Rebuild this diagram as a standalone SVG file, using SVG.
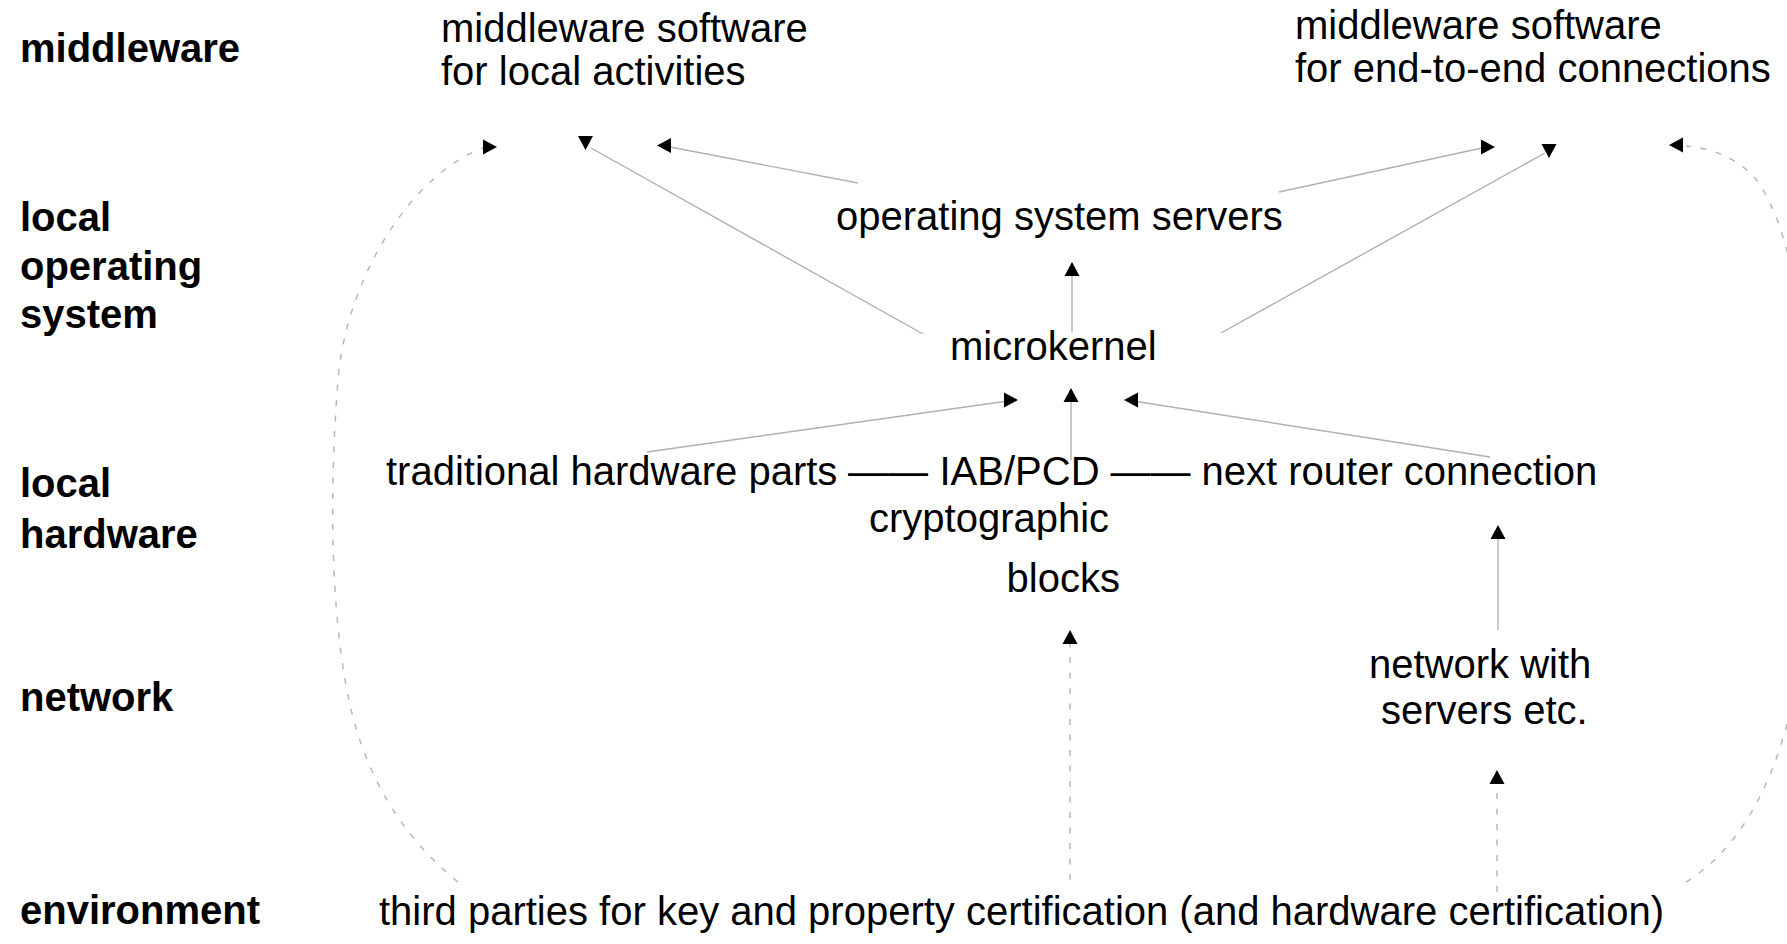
<svg xmlns="http://www.w3.org/2000/svg" xmlns:xlink="http://www.w3.org/1999/xlink" width="1787" height="944" viewBox="0 0 1787 944">
  <style>
    text { font-family: "Liberation Sans", Arial, sans-serif; font-size: 40px; fill: #000; }
    .layer { font-weight: bold; }
    .link { fill: none; stroke: #b0b0b0; stroke-width: 1.4; }
    .dots { fill: none; stroke: #b8b8b8; stroke-width: 1.5; stroke-dasharray: 6 9.5; }
    .head { fill: #000; }
  </style>
  <defs>
    <!-- arrowhead pointing right, tip at origin -->
    <path id="ah" class="head" d="M0,0 L-14,-7.5 L-14,7.5 Z"/>
  </defs>

  <rect width="1787" height="944" fill="#fff"/>

  <!-- layer labels -->
  <g id="layer-middleware"><text class="layer" x="20" y="62">middleware</text></g>
  <g id="layer-local-os">
    <text class="layer" x="20" y="231">local</text>
    <text class="layer" x="20" y="280">operating</text>
    <text class="layer" x="20" y="328">system</text>
  </g>
  <g id="layer-local-hw">
    <text class="layer" x="20" y="497">local</text>
    <text class="layer" x="20" y="548">hardware</text>
  </g>
  <g id="layer-network"><text class="layer" x="20" y="711">network</text></g>
  <g id="layer-environment"><text class="layer" x="20" y="924">environment</text></g>

  <!-- connectors -->
  <g id="connectors">
    <line class="link" x1="923" y1="334" x2="591" y2="148"/>
    <line class="link" x1="858" y1="183" x2="670" y2="147"/>
    <line class="link" x1="1279" y1="192" x2="1482" y2="148"/>
    <line class="link" x1="1221" y1="333" x2="1545" y2="153"/>
    <line class="link" x1="1072" y1="332" x2="1072" y2="272"/>
    <line class="link" x1="647" y1="452" x2="1008" y2="401"/>
    <line class="link" x1="1071" y1="460" x2="1071" y2="398"/>
    <line class="link" x1="1490" y1="457" x2="1133" y2="401"/>
    <line class="link" x1="1498" y1="630" x2="1498" y2="535"/>
    <line class="dots" x1="1070" y1="880" x2="1070" y2="644"/>
    <line class="dots" x1="1497" y1="892" x2="1497" y2="784"/>
    <path class="dots" d="M458,882 C400,835 360,770 345,680 S330,480 338,380 S410,175 483,148"/>
    <path class="dots" d="M1686,882 C1770,830 1810,700 1810,520 C1810,340 1795,240 1760,185 C1745,162 1715,148 1686,146"/>

    <use xlink:href="#ah" href="#ah" transform="translate(497,147)"/>
    <use xlink:href="#ah" href="#ah" transform="translate(585.5,150) rotate(90)"/>
    <use xlink:href="#ah" href="#ah" transform="translate(657,145.5) rotate(180)"/>
    <use xlink:href="#ah" href="#ah" transform="translate(1495,147)"/>
    <use xlink:href="#ah" href="#ah" transform="translate(1549,158) rotate(90)"/>
    <use xlink:href="#ah" href="#ah" transform="translate(1669,145) rotate(180)"/>
    <use xlink:href="#ah" href="#ah" transform="translate(1072,262) rotate(-90)"/>
    <use xlink:href="#ah" href="#ah" transform="translate(1018,400)"/>
    <use xlink:href="#ah" href="#ah" transform="translate(1071,388) rotate(-90)"/>
    <use xlink:href="#ah" href="#ah" transform="translate(1124,400) rotate(180)"/>
    <use xlink:href="#ah" href="#ah" transform="translate(1498,525) rotate(-90)"/>
    <use xlink:href="#ah" href="#ah" transform="translate(1070,630) rotate(-90)"/>
    <use xlink:href="#ah" href="#ah" transform="translate(1497,770) rotate(-90)"/>
  </g>

  <!-- nodes -->
  <g id="mw-local">
    <text x="441" y="42">middleware software</text>
    <text x="441" y="85">for local activities</text>
  </g>
  <g id="mw-e2e">
    <text x="1295" y="39">middleware software</text>
    <text x="1295" y="82">for end-to-end connections</text>
  </g>
  <g id="os-servers"><text x="836" y="230">operating system servers</text></g>
  <g id="microkernel"><text x="950" y="360">microkernel</text></g>
  <g id="hw-traditional"><text x="386" y="485">traditional hardware parts</text></g>
  <g id="hw-link-left"><text x="848" y="485">——</text></g>
  <g id="iab-pcd"><text x="939.5" y="485">IAB/PCD</text></g>
  <g id="hw-link-right"><text x="1110.5" y="485">——</text></g>
  <g id="router"><text x="1201.5" y="485">next router connection</text></g>
  <g id="crypto-blocks">
    <text x="869" y="532">cryptographic</text>
    <text x="1006.5" y="592">blocks</text>
  </g>
  <g id="network-servers">
    <text x="1369" y="678">network with</text>
    <text x="1381" y="724">servers etc.</text>
  </g>
  <g id="third-parties"><text x="379" y="925">third parties for key and property certification (and hardware certification)</text></g>
</svg>
